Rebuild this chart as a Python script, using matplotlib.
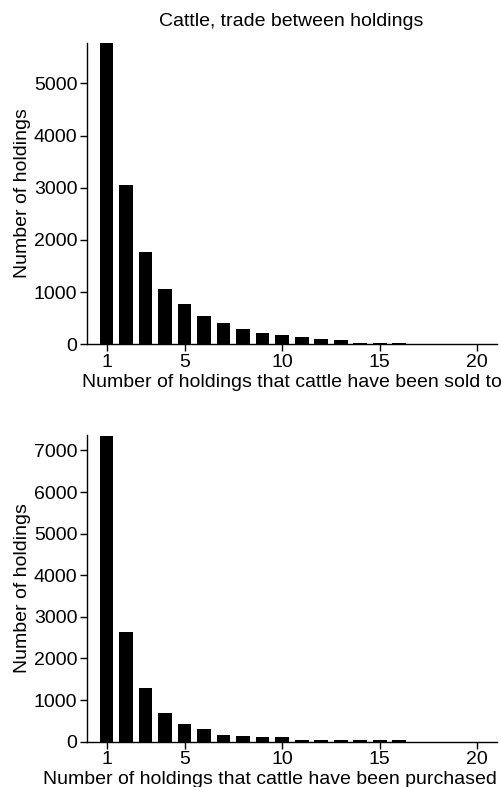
import matplotlib
matplotlib.use("Agg")
import matplotlib.pyplot as plt

plt.rcParams['font.family'] = ['Liberation Sans', 'DejaVu Sans']

# ---- data ----
n_partners = list(range(1, 21))
sold_to = [5766, 3050, 1770, 1065, 772, 542, 400, 299, 216, 178,
           140, 107, 77, 31, 30, 30, 0, 0, 0, 0]
purchased_from = [7350, 2644, 1291, 690, 433, 305, 168, 144, 120, 104,
                  40, 40, 40, 40, 40, 40, 0, 0, 0, 0]
x_ticks = [1, 5, 10, 15, 20]
title = "Cattle, trade between holdings"
ylabel = "Number of holdings"
xlabel_top = "Number of holdings that cattle have been sold to"
xlabel_bottom = "Number of holdings that cattle have been purchased from"

fig = plt.figure(figsize=(5.01, 7.87), dpi=100)
ax1 = fig.add_axes([0.1737, 0.5625, 0.818, 0.3832])
ax2 = fig.add_axes([0.1737, 0.0576, 0.818, 0.3897])

FS = 14


def style(ax, counts, ytop, xlabel):
    ax.bar(n_partners, counts, width=0.7, color="black", edgecolor="none")
    ax.set_xlim(0, 21)
    ax.set_ylim(0, ytop)
    ax.set_xticks(x_ticks)
    ax.spines["top"].set_visible(False)
    ax.spines["right"].set_visible(False)
    for s in ("left", "bottom"):
        ax.spines[s].set_linewidth(1.0)
    ax.tick_params(axis="both", direction="out", length=5, width=1.0,
                   labelsize=FS, pad=2)
    ax.set_ylabel(ylabel, fontsize=FS, labelpad=2)
    ax.set_xlabel(xlabel, fontsize=FS, labelpad=2)


style(ax1, sold_to, 5778, xlabel_top)
ax1.set_yticks(range(0, 6000, 1000))
style(ax2, purchased_from, 7373, xlabel_bottom)
ax2.set_yticks(range(0, 8000, 1000))

fig.text(0.582, 0.973, title, ha="center", va="center", fontsize=14)

fig.savefig("out.png", dpi=100)
